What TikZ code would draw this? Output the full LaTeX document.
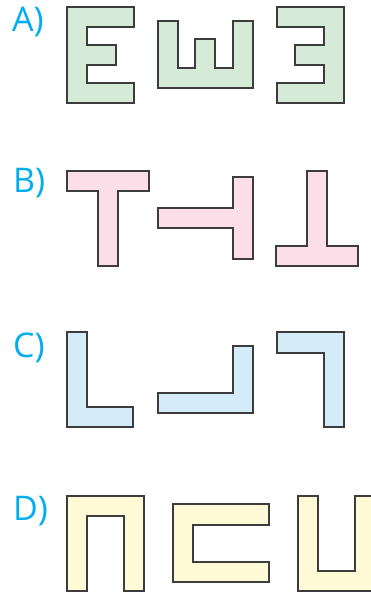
\documentclass[tikz,border=0pt]{standalone}
\usepackage{fontspec}
\setsansfont{Open Sans}
\usepackage{tikz}
\definecolor{shapegreen}{RGB}{214,234,216}
\definecolor{shapepink}{RGB}{252,222,233}
\definecolor{shapeblue}{RGB}{212,235,248}
\definecolor{shapeyellow}{RGB}{255,249,214}
\definecolor{labelcyan}{RGB}{0,174,239}
\definecolor{edgegray}{RGB}{60,60,60}

\begin{document}
\begin{tikzpicture}[
	x=1pt, y=-1pt,
	letterfig/.style={
		draw=edgegray,
		fill=#1,
		line width=1.2pt,
		line join=miter
	},
	rowlabel/.style={
		font=\sffamily\fontsize{34}{34}\selectfont,
		color=labelcyan,
		anchor=base west,
		inner sep=0pt
	}
	]
	
	\useasboundingbox (0,0) rectangle (371,594);
	
	% Row labels
	\node[rowlabel] (labA) at (12,32) {A)};
	\node[rowlabel] (labB) at (13,192) {B)};
	\node[rowlabel] (labC) at (13,357) {C)};
	\node[rowlabel] (labD) at (13,520) {D)};
	
	% Row A - E shapes
	\draw[letterfig=shapegreen] (67,7) -- (134,7) -- (134,27) -- (87,27) -- (87,45) -- (116,45) -- (116,65) -- (87,65) -- (87,83) -- (134,83) -- (134,103) -- (67,103) -- cycle;
	\draw[letterfig=shapegreen] (158,21) -- (178,21) -- (178,68) -- (195,68) -- (195,39) -- (215,39) -- (215,68) -- (233,68) -- (233,21) -- (253,21) -- (253,88) -- (158,88) -- cycle;
	\draw[letterfig=shapegreen] (277,7) -- (344,7) -- (344,103) -- (277,103) -- (277,83) -- (324,83) -- (324,65) -- (295,65) -- (295,45) -- (324,45) -- (324,27) -- (277,27) -- cycle;
	
	% Row B - T shapes
	\draw[letterfig=shapepink] (67,171) -- (149,171) -- (149,191) -- (118,191) -- (118,266) -- (98,266) -- (98,191) -- (67,191) -- cycle;
	\draw[letterfig=shapepink] (158,208) -- (233,208) -- (233,177) -- (253,177) -- (253,259) -- (233,259) -- (233,228) -- (158,228) -- cycle;
	\draw[letterfig=shapepink] (307,171) -- (327,171) -- (327,246) -- (358,246) -- (358,266) -- (276,266) -- (276,246) -- (307,246) -- cycle;
	
	% Row C - L shapes
	\draw[letterfig=shapeblue] (67,332) -- (87,332) -- (87,407) -- (133,407) -- (133,427) -- (67,427) -- cycle;
	\draw[letterfig=shapeblue] (233,346) -- (253,346) -- (253,413) -- (158,413) -- (158,393) -- (233,393) -- cycle;
	\draw[letterfig=shapeblue] (277,332) -- (344,332) -- (344,427) -- (324,427) -- (324,353) -- (277,353) -- cycle;
	
	% Row D - U shapes
	\draw[letterfig=shapeyellow] (67,496) -- (144,496) -- (144,591) -- (124,591) -- (124,516) -- (87,516) -- (87,591) -- (67,591) -- cycle;
	\draw[letterfig=shapeyellow] (173,504) -- (269,504) -- (269,525) -- (193,525) -- (193,562) -- (269,562) -- (269,582) -- (173,582) -- cycle;
	\draw[letterfig=shapeyellow] (298,496) -- (318,496) -- (318,571) -- (355,571) -- (355,496) -- (375,496) -- (375,591) -- (298,591) -- cycle;
	
\end{tikzpicture}
\end{document}
